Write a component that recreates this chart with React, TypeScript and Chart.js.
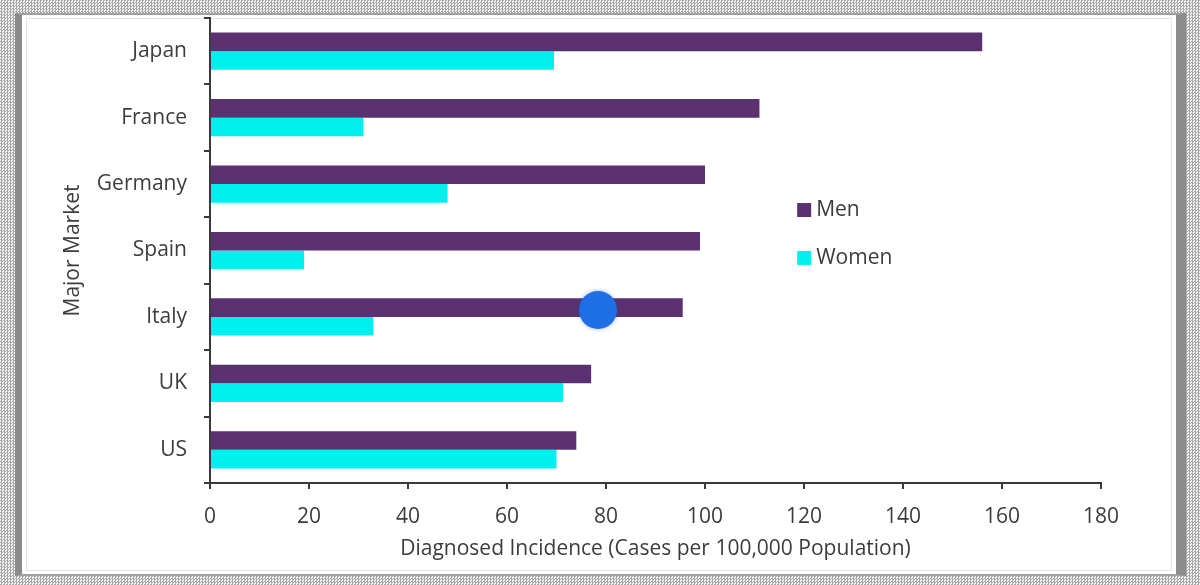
import { useEffect, useRef } from "react";
import { Chart, registerables } from "chart.js";

Chart.register(...registerables);

// Diagnosed incidence per 100,000 population, by market
const markets = ["Japan", "France", "Germany", "Spain", "Italy", "UK", "US"];
const menIncidence = [156, 111, 100, 99, 95.5, 77, 74];
const womenIncidence = [69.5, 31, 48, 19, 33, 71.3, 70];
const seriesNames = ["Men", "Women"];
const seriesColors = ["#5b3171", "#00f0f0"];

const axisMin = 0;
const axisMax = 180;
const axisStep = 20;

const textColor = "#3c3c3c";
const axisColor = "#3a3a3a";
const fontFamily = "'Open Sans', 'DejaVu Sans', sans-serif";
const labelSize = 21;

// Legend drawn inside the plot area, to the right of the Germany/Spain bars
const floatingLegend = {
  id: "floatingLegend",
  afterDraw(chart: any) {
    const { ctx, chartArea } = chart;
    const w = chartArea.right - chartArea.left;
    const h = chartArea.bottom - chartArea.top;
    const x = chartArea.left + 0.659 * w;
    const rows = [0.413, 0.516];
    ctx.save();
    ctx.font = `${labelSize}px ${fontFamily}`;
    ctx.textBaseline = "middle";
    ctx.textAlign = "left";
    chart.data.datasets.forEach((ds: any, i: number) => {
      const cy = chartArea.top + rows[i] * h;
      ctx.fillStyle = ds.backgroundColor;
      ctx.fillRect(x, cy - 7, 14, 14);
      ctx.fillStyle = textColor;
      ctx.fillText(ds.label, x + 19, cy);
    });
    ctx.restore();
  },
};

export default function App() {
  const canvasRef = useRef<HTMLCanvasElement | null>(null);

  useEffect(() => {
    if (!canvasRef.current) return;
    const chart = new Chart(canvasRef.current, {
      type: "bar",
      data: {
        labels: markets,
        datasets: [
          {
            label: seriesNames[0],
            data: menIncidence,
            backgroundColor: seriesColors[0],
            categoryPercentage: 0.56,
            barPercentage: 1.0,
          },
          {
            label: seriesNames[1],
            data: womenIncidence,
            backgroundColor: seriesColors[1],
            categoryPercentage: 0.56,
            barPercentage: 1.0,
          },
        ],
      },
      options: {
        indexAxis: "y",
        animation: false,
        responsive: false,
        maintainAspectRatio: false,
        layout: { padding: { left: 56, right: 99, top: 18, bottom: 19 } },
        plugins: {
          legend: { display: false },
          tooltip: { enabled: false },
        },
        scales: {
          x: {
            min: axisMin,
            max: axisMax,
            ticks: {
              stepSize: axisStep,
              color: textColor,
              font: { family: fontFamily, size: labelSize },
              padding: 15,
              maxRotation: 0,
            },
            grid: {
              drawOnChartArea: false,
              drawTicks: true,
              tickLength: 6,
              color: axisColor,
              lineWidth: 2,
            },
            border: { display: true, color: axisColor, width: 2 },
            title: {
              display: true,
              text: "Diagnosed Incidence (Cases per 100,000 Population)",
              color: textColor,
              font: { family: fontFamily, size: labelSize },
              padding: { top: 4, bottom: 4 },
            },
            afterFit(scale: any) {
              scale.height = 83;
            },
          },
          y: {
            ticks: {
              color: textColor,
              font: { family: fontFamily, size: labelSize },
              padding: 17,
            },
            grid: {
              offset: true,
              drawOnChartArea: false,
              drawTicks: true,
              tickLength: 6,
              color: axisColor,
              lineWidth: 2,
            },
            border: { display: true, color: axisColor, width: 2 },
            title: {
              display: true,
              text: "Major Market",
              color: textColor,
              font: { family: fontFamily, size: labelSize },
              padding: { top: 4, bottom: 4 },
            },
            afterFit(scale: any) {
              scale.width = 154;
              scale.paddingTop = 0;
              scale.paddingBottom = 0;
            },
          },
        },
      },
      plugins: [floatingLegend],
    });
    return () => chart.destroy();
  }, []);

  return (
    <div
      style={{
        position: "absolute",
        left: 0,
        top: 0,
        width: 1200,
        height: 585,
        overflow: "hidden",
        background:
          "repeating-conic-gradient(#a8a8a8 0 25%, #f4f4f4 0 50%) 0 0 / 3px 3px",
      }}
    >
      <div
        style={{
          position: "absolute",
          left: 15,
          top: 13,
          width: 1171,
          height: 563,
          boxSizing: "border-box",
          background: "#ffffff",
          borderLeft: "7px solid #8c8c8c",
          borderRight: "10px solid #8c8c8c",
          borderTop: "2px solid #a0a0a0",
          borderBottom: "2px solid #a0a0a0",
        }}
      >
        <div
          style={{
            position: "absolute",
            left: 4,
            top: 3,
            right: 4,
            bottom: 3,
            border: "1px solid #e4e4e4",
          }}
        />
      </div>
      <canvas
        ref={canvasRef}
        width={1200}
        height={585}
        style={{ position: "absolute", left: 0, top: 0, width: 1200, height: 585 }}
      />
      <div
        style={{
          position: "absolute",
          left: 579,
          top: 291,
          width: 38,
          height: 38,
          borderRadius: "50%",
          background: "#1e6fe6",
          boxShadow: "0 0 4px rgba(30,80,160,0.45)",
        }}
      />
    </div>
  );
}
